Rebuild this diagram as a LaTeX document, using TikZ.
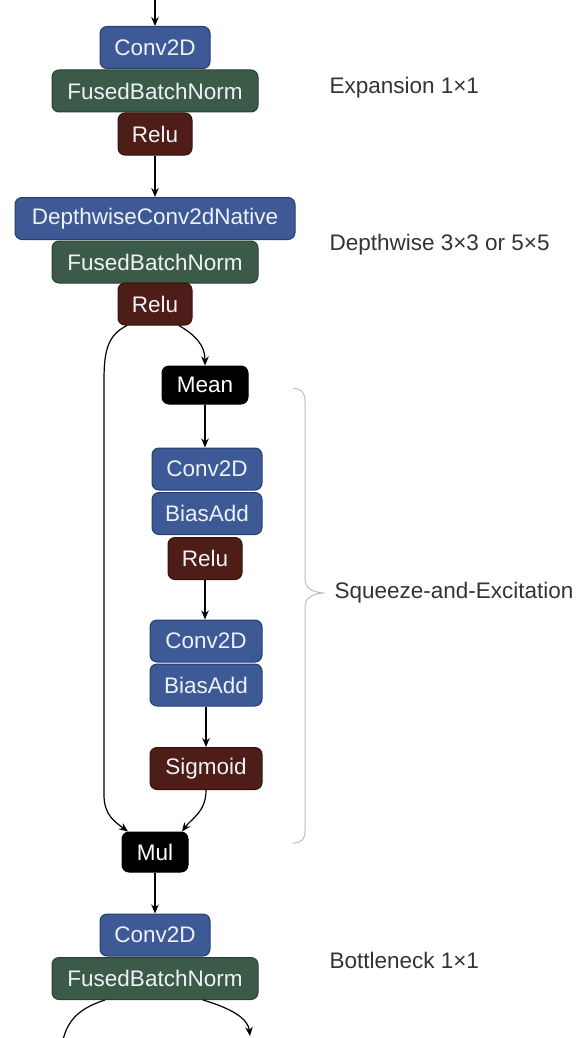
\documentclass[tikz,border=0pt]{standalone}
\usepackage{fontspec}
\setmainfont{Liberation Sans}
\usetikzlibrary{arrows.meta}

\definecolor{opblue}{HTML}{3D5A96}
\definecolor{opblueedge}{HTML}{283E6C}
\definecolor{opgreen}{HTML}{3C5A48}
\definecolor{opgreenedge}{HTML}{2A4133}
\definecolor{opred}{HTML}{4E1D17}
\definecolor{oprededge}{HTML}{33110D}
\definecolor{optext}{HTML}{EEF2F8}
\definecolor{labeltext}{HTML}{333333}
\definecolor{bracegray}{HTML}{BDBDBD}

\tikzset{
  op/.style={rounded corners=7pt, line width=1pt, text=optext, inner sep=0pt,
             font=\fontsize{22.5}{26}\selectfont, minimum height=42pt},
  conv/.style={op, fill=opblue, draw=opblueedge},
  norm/.style={op, fill=opgreen, draw=opgreenedge},
  act/.style={op, fill=opred, draw=oprededge},
  reduce/.style={op, fill=black, draw=black, text=white},
  flow/.style={line width=1.2pt, -{Stealth[length=9pt,width=7.5pt]}},
  plainflow/.style={line width=1.2pt},
  stage/.style={anchor=west, text=labeltext, font=\fontsize{22.5}{26}\selectfont},
  brace/.style={draw=bracegray, line width=1pt}
}

\begin{document}
\begin{tikzpicture}[x=1pt, y=1pt]
\useasboundingbox (0,0) rectangle (582,-1038);
\clip (0,0) rectangle (582,-1038);

% expansion 1x1
\coordinate (in) at (155,0);
\node[conv, minimum width=110pt] (c1) at (155,-47.5) {Conv2D};
\node[norm, minimum width=206pt] (f1) at (155,-91) {FusedBatchNorm};
\node[act,  minimum width=74pt]  (r1) at (155,-134) {Relu};

% depthwise
\node[conv, minimum width=280pt] (dw) at (155,-218.5) {DepthwiseConv2dNative};
\node[norm, minimum width=206pt] (f2) at (155,-262) {FusedBatchNorm};
\node[act,  minimum width=74pt]  (r2) at (155,-304) {Relu};

% squeeze-and-excitation
\node[reduce, minimum width=86pt, minimum height=38pt] (mean) at (205,-385) {Mean};
\node[conv, minimum width=110pt] (sc1) at (207,-469) {Conv2D};
\node[conv, minimum width=110pt] (sb1) at (207,-513.5) {BiasAdd};
\node[act,  minimum width=74pt]  (sr1) at (205,-558.5) {Relu};
\node[conv, minimum width=112pt] (sc2) at (206,-641) {Conv2D};
\node[conv, minimum width=112pt] (sb2) at (206,-685) {BiasAdd};
\node[act,  minimum width=112pt] (sig) at (206,-768.5) {Sigmoid};
\node[reduce, minimum width=66pt, minimum height=40pt] (mul) at (155,-852) {Mul};

% bottleneck 1x1
\node[conv, minimum width=110pt] (c3) at (155,-935) {Conv2D};
\node[norm, minimum width=206pt] (f3) at (155,-978.5) {FusedBatchNorm};
\coordinate (outl) at (62,-1045);
\coordinate (outr) at (250,-1036);

% connectors
\draw[flow] (in) -- (c1.north);
\draw[flow] (r1.south) -- (dw.north);
\draw[flow] ([xshift=24pt]r2.south) .. controls (195,-335) and (205,-345) .. (mean.north);
\draw[flow] ([xshift=-28pt]r2.south) .. controls (108,-335) and (104,-350) .. (104,-380)
   -- (104,-795) .. controls (104,-815) and (115,-822) .. ([xshift=-27pt]mul.north);
\draw[flow] (mean.south) -- (mean.south |- sc1.north);
\draw[flow] (sr1.south) -- (sr1.south |- sc2.north);
\draw[flow] (sb2.south) -- (sig.north);
\draw[flow] (sig.south) .. controls (206,-812) and (192,-818) .. ([xshift=27pt]mul.north);
\draw[flow] (mul.south) -- (c3.north);
\draw[plainflow] ([xshift=-50pt]f3.south) .. controls (80,-1008) and (66,-1020) .. (outl);
\draw[flow] ([xshift=48pt]f3.south) .. controls (230,-1008) and (248,-1018) .. (outr);

% stage labels
\node[stage] (lexp) at (326,-88) {Expansion 1×1};
\node[stage] (ldw)  at (326,-245) {Depthwise 3×3 or 5×5};
\node[stage] (lse)  at (331,-593) {Squeeze-and-Excitation};
\node[stage] (lbot) at (326,-960) {Bottleneck 1×1};

% brace around the SE block
\draw[brace] (293,-388) .. controls (302,-389) and (305,-393) .. (305,-402)
   -- (305,-579) .. controls (305,-588) and (312,-592) .. (323,-593)
   .. controls (312,-594) and (305,-598) .. (305,-607)
   -- (305,-830) .. controls (305,-839) and (302,-843) .. (293,-843);
\end{tikzpicture}
\end{document}
